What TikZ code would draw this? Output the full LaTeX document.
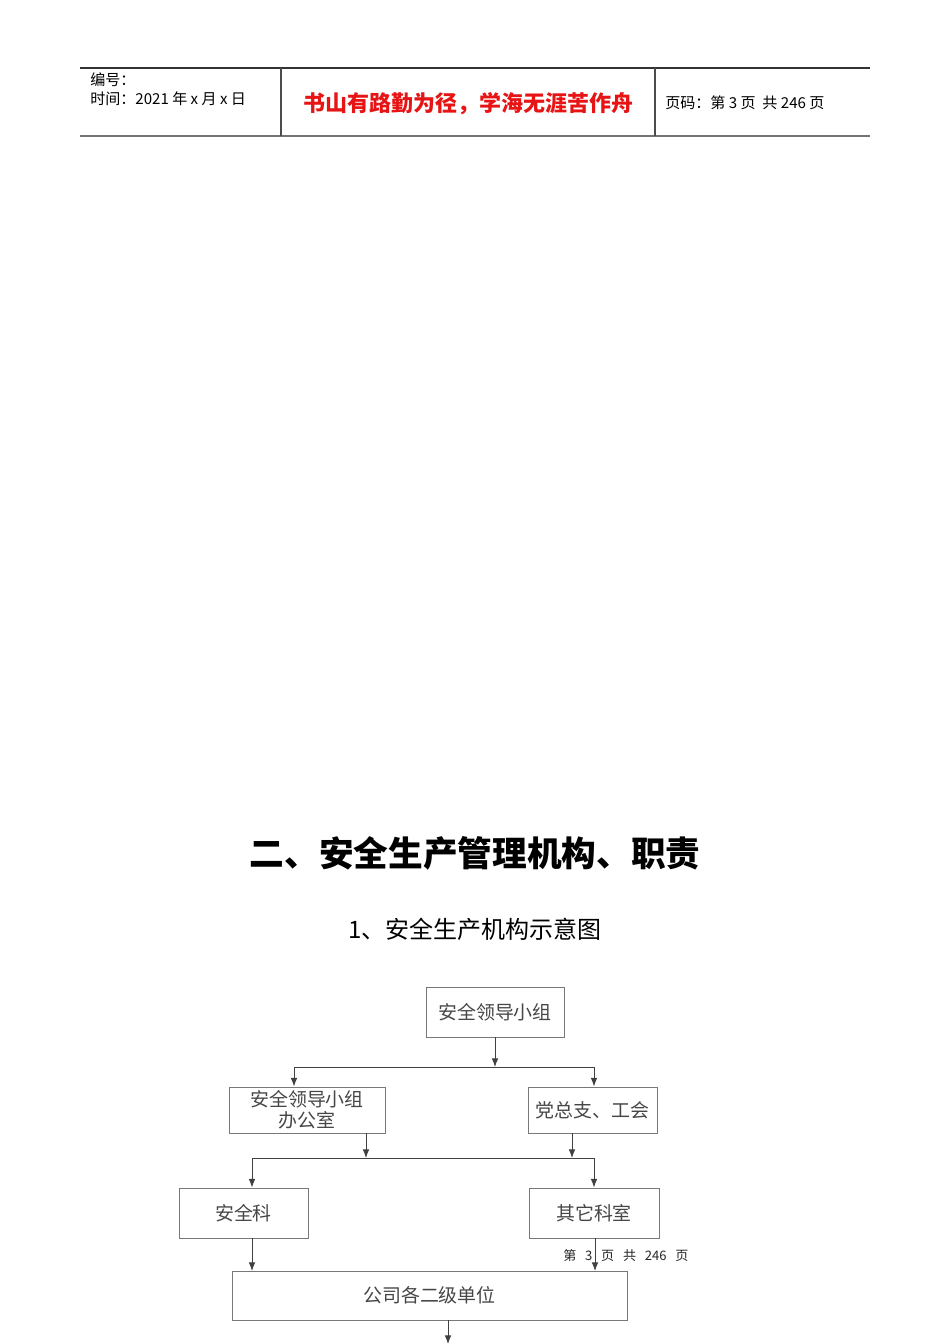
\documentclass[tikz,border=0pt]{standalone}
\usepackage{fontspec}
\setmainfont{Liberation Serif}
\newfontfamily\cjk{Noto Sans CJK SC}
\usetikzlibrary{arrows.meta}
\definecolor{boxgray}{RGB}{120,120,120}
\definecolor{txtgray}{RGB}{70,70,70}
\definecolor{hdrred}{RGB}{230,20,20}
\tikzset{
  box/.style={draw=boxgray, line width=0.7pt, inner sep=0pt, align=center, font=\cjk\fontsize{14.2pt}{17pt}\selectfont, text=txtgray},
  conn/.style={draw=black!75, line width=0.7pt},
  arr/.style={conn, -{Latex[length=6.5pt,width=5pt]}},
  hdr/.style={anchor=west, inner sep=0pt, font=\cjk\fontsize{11.3pt}{13pt}\selectfont}
}
\begin{document}
\begin{tikzpicture}[x=0.75pt,y=-0.75pt]
\useasboundingbox (0,0) rectangle (950,1344);
\fill[white] (0,0) rectangle (950,1344);
% header
\draw[black!80, line width=0.8pt] (80,68) -- (870,68);
\draw[black!55, line width=1.4pt] (80,136) -- (870,136);
\draw[black!70, line width=0.8pt] (281,68) -- (281,136);
\draw[black!70, line width=0.8pt] (655,68) -- (655,136);
\node[hdr] (h1) at (90,80) {编号：};
\node[hdr] (h2) at (90,99) {时间：2021 年 x 月 x 日};
\node[inner sep=0pt, font=\cjk\fontsize{16.5pt}{20pt}\selectfont\bfseries, text=hdrred] (h3) at (468,104) {书山有路勤为径，学海无涯苦作舟};
\node[hdr] (h4) at (665,103) {页码：第 3 页\ \ 共 246 页};
% titles
\node[inner sep=0pt, font=\cjk\bfseries\fontsize{26pt}{30pt}\selectfont] (t1) at (475,853) {二、安全生产管理机构、职责};
\node[inner sep=0pt, font=\cjk\fontsize{18pt}{22pt}\selectfont] (t2) at (475,929) {1、安全生产机构示意图};
% boxes
\node[box, minimum width=103.5pt, minimum height=37.5pt] (A) at (495,1012) {安全领导小组};
\node[box, minimum width=117pt, minimum height=34.5pt, font=\cjk\fontsize{14.2pt}{15.5pt}\selectfont] (B) at (307,1110) {安全领导小组\\办公室};
\node[box, minimum width=96.75pt, minimum height=34.5pt] (C) at (592.5,1110) {党总支、工会};
\node[box, minimum width=96.75pt, minimum height=37.5pt] (D) at (243.5,1213) {安全科};
\node[box, minimum width=97.5pt, minimum height=37.5pt] (E) at (594,1213) {其它科室};
\node[box, minimum width=296.25pt, minimum height=36.75pt] (F) at (429.5,1295.5) {公司各二级单位};
% junctions
\coordinate (j1) at (495,1067);
\coordinate (j1L) at (294,1067);
\coordinate (j1R) at (594,1067);
\coordinate (j2a) at (366,1158);
\coordinate (j2b) at (572,1158);
\coordinate (j2L) at (252,1158);
\coordinate (j2R) at (594,1158);
\coordinate (fL) at (252,1271);
\coordinate (fR) at (595,1271);
\coordinate (fend) at (448,1344);
% connectors
\draw[arr] (A.south) -- (j1);
\draw[conn] (j1L) -- (j1R);
\draw[arr] (j1L) -- (j1L |- B.north);
\draw[arr] (j1R) -- (j1R |- C.north);
\draw[arr] (j2a |- B.south) -- (j2a);
\draw[arr] (j2b |- C.south) -- (j2b);
\draw[conn] (j2L) -- (j2R);
\draw[arr] (j2L) -- (j2L |- D.north);
\draw[arr] (j2R) -- (j2R |- E.north);
\draw[arr] (fL |- D.south) -- (fL);
\draw[arr] (fR |- E.south) -- (fR);
\draw[arr] (fend |- F.south) -- (fend);
% page footer
\node[inner sep=0pt, anchor=west, font=\cjk\fontsize{9.8pt}{11pt}\selectfont, text=black!85] (pg) at (563,1256) {第\ \ \ 3\ \ \ 页\ \ \ 共\ \ \ 246\ \ \ 页};
\end{tikzpicture}
\end{document}
